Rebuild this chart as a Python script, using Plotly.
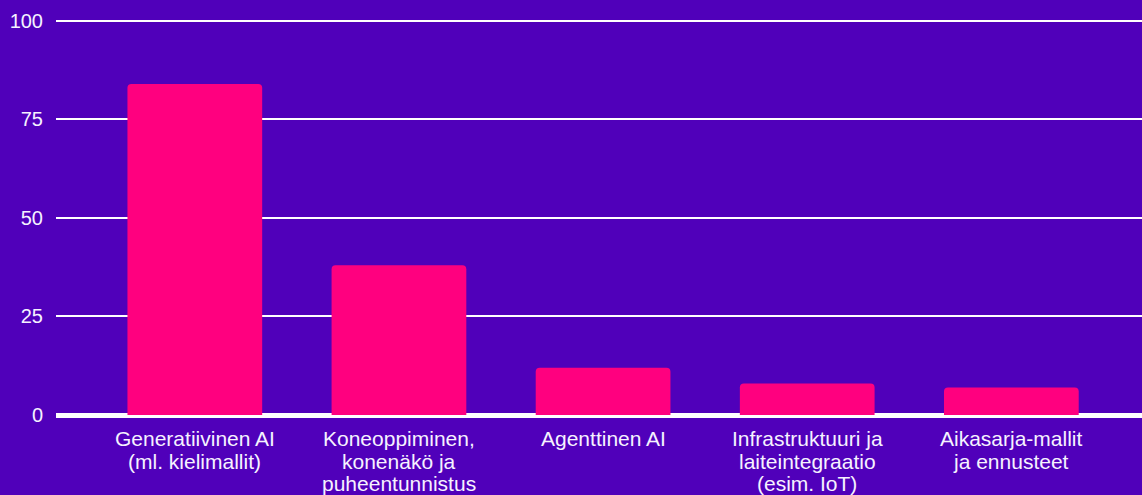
import plotly.graph_objects as go

categories = [
    "Generatiivinen AI<br>(ml. kielimallit)",
    "Koneoppiminen,<br>konenäkö ja<br>puheentunnistus",
    "Agenttinen AI",
    "Infrastruktuuri ja<br>laiteintegraatio<br>(esim. IoT)",
    "Aikasarja-mallit<br>ja ennusteet",
]
values = [84, 38, 12, 8, 7]
y_ticks = [0, 25, 50, 75, 100]

BG = "#5000BA"
BAR = "#FF007F"
TXT = "#F6F2FF"
FONT = "Liberation Sans, Arial, sans-serif"
FS = 21
LINE_H = 22.5

fig = go.Figure(
    go.Bar(
        x=categories,
        y=values,
        marker=dict(color=BAR, line=dict(width=0), cornerradius=4),
        hoverinfo="skip",
    )
)

# category labels drawn line by line for tighter line spacing
annotations = []
for cat in categories:
    for i, line in enumerate(cat.split("<br>")):
        annotations.append(
            dict(
                x=cat, y=0, xref="x", yref="y",
                text=line, showarrow=False,
                xanchor="center", yanchor="top",
                yshift=-10 - i * LINE_H,
                font=dict(family=FONT, size=FS, color=TXT),
            )
        )

fig.update_layout(
    width=1142,
    height=495,
    paper_bgcolor=BG,
    plot_bgcolor=BG,
    margin=dict(l=56, r=0, t=17, b=80),
    bargap=0.34,
    showlegend=False,
    font=dict(family=FONT, size=FS, color=TXT),
    annotations=annotations,
)
fig.update_xaxes(
    range=[-0.68, 4.64],
    showgrid=False,
    showline=False,
    zeroline=False,
    ticks="",
    showticklabels=False,
)
fig.update_yaxes(
    range=[0, 101],
    tickvals=y_ticks,
    showgrid=True,
    gridcolor="#FFFFFF",
    gridwidth=2,
    zeroline=True,
    zerolinecolor="#FFFFFF",
    zerolinewidth=5,
    showline=False,
    ticks="",
    ticklabelstandoff=12,
    tickfont=dict(family=FONT, size=20, color=TXT),
)

fig.write_html(
    "out.html",
    config={"displayModeBar": False},
    post_script="document.body.style.margin='0';",
)
